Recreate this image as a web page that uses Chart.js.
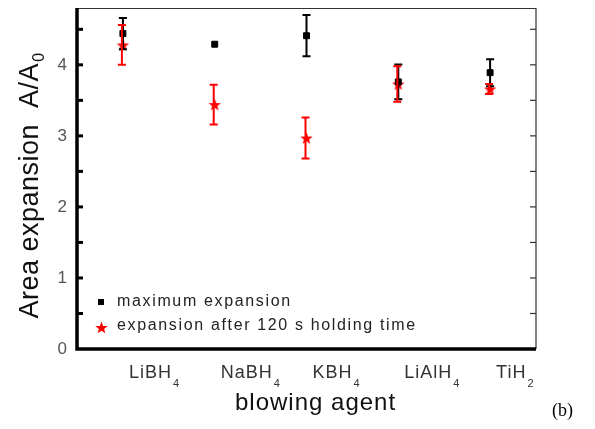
<!DOCTYPE html>
<html>
<head>
<meta charset="utf-8">
<script src="https://cdn.jsdelivr.net/npm/chart.js@4/dist/chart.umd.min.js"></script>
<style>
  html, body { margin: 0; padding: 0; background: #fff; }
  #wrap { position: relative; width: 595px; height: 429px; }
</style>
</head>
<body>
<div id="wrap"><canvas id="chart" width="595" height="429"></canvas></div>
<script>
// values
var categories = ['LiBH4', 'NaBH4', 'KBH4', 'LiAlH4', 'TiH2'];
var maxExpansion = [4.44, 4.29, 4.41, 3.76, 3.89];
var maxError = [0.22, 0.02, 0.29, 0.245, 0.19];
var holdExpansion = [4.28, 3.44, 2.97, 3.73, 3.66];
var holdError = [0.28, 0.28, 0.29, 0.25, 0.07];
var yTicks = [0, 1, 2, 3, 4];
var yMinorTicks = [0.5, 1.5, 2.5, 3.5, 4.5];

var FONT = '"Liberation Sans", Arial, sans-serif';

// filled five point star used as point style
function makeStar(size, color) {
    var c = document.createElement('canvas');
    c.width = size;
    c.height = size;
    var g = c.getContext('2d');
    var cx = size / 2, cy = size / 2 + 0.6;
    var outer = size / 2, inner = outer * 0.42;
    g.beginPath();
    for (var i = 0; i < 10; i++) {
        var r = i % 2 === 0 ? outer : inner;
        var a = -Math.PI / 2 + i * Math.PI / 5;
        g.lineTo(cx + r * Math.cos(a), cy + r * Math.sin(a));
    }
    g.closePath();
    g.fillStyle = color;
    g.fill();
    return c;
}

var starImg = makeStar(13, '#ff0000');

function spacing(ctx, px) {
    if ('letterSpacing' in ctx) ctx.letterSpacing = px + 'px';
}

// text with a subscript at the end, e.g. LiBH4 -> LiBH + 4
function drawSubText(ctx, text, x, y, size, subSize, gap, drop) {
    var m = text.match(/^(.*?)(\d+)$/);
    var base = m ? m[1] : text, sub = m ? m[2] : '';
    ctx.textAlign = 'left';
    ctx.textBaseline = 'alphabetic';
    ctx.font = size + 'px ' + FONT;
    var wb = ctx.measureText(base).width;
    ctx.fillText(base, x, y);
    ctx.font = subSize + 'px ' + FONT;
    ctx.fillText(sub, x + wb + gap, y + drop);
}

var errorBars = {
    id: 'errorBars',
    afterDatasetsDraw: function(chart) {
        var ctx = chart.ctx;
        var xs = chart.scales.x, ys = chart.scales.y;
        var sets = [
            { mean: maxExpansion, err: maxError, color: '#000000', dx: 0 },
            { mean: holdExpansion, err: holdError, color: '#ff0000', dx: -1 }
        ];
        ctx.save();
        ctx.lineWidth = 2;
        sets.forEach(function(s) {
            ctx.strokeStyle = s.color;
            s.mean.forEach(function(v, i) {
                var x = xs.getPixelForValue(i) + s.dx;
                var top = ys.getPixelForValue(v + s.err[i]);
                var bot = ys.getPixelForValue(v - s.err[i]);
                if (bot - top < 3) return;
                ctx.beginPath();
                ctx.moveTo(x, top); ctx.lineTo(x, bot);
                ctx.moveTo(x - 4, top); ctx.lineTo(x + 4, top);
                ctx.moveTo(x - 4, bot); ctx.lineTo(x + 4, bot);
                ctx.stroke();
            });
        });
        ctx.restore();
    }
};

var frameAndText = {
    id: 'frameAndText',
    afterDraw: function(chart) {
        var ctx = chart.ctx;
        var a = chart.chartArea;
        var xs = chart.scales.x, ys = chart.scales.y;
        ctx.save();

        // thin top and right border
        ctx.strokeStyle = '#333';
        ctx.lineWidth = 1.2;
        ctx.beginPath();
        ctx.moveTo(a.left, a.top + 0.5); ctx.lineTo(a.right, a.top + 0.5);
        ctx.lineTo(a.right, a.bottom);
        ctx.stroke();

        // inward ticks on left (thick) and right (thin)
        yTicks.concat(yMinorTicks).forEach(function(v) {
            var y = ys.getPixelForValue(v);
            if (v > 0) {
                ctx.strokeStyle = '#000';
                ctx.lineWidth = 3;
                ctx.beginPath();
                ctx.moveTo(a.left, y); ctx.lineTo(a.left + 6, y);
                ctx.stroke();
                ctx.strokeStyle = '#333';
                ctx.lineWidth = 1.2;
                ctx.beginPath();
                ctx.moveTo(a.right, y); ctx.lineTo(a.right - 6, y);
                ctx.stroke();
            }
        });

        // thick left and bottom axis
        ctx.strokeStyle = '#000';
        ctx.lineWidth = 3.5;
        ctx.beginPath();
        ctx.moveTo(a.left, a.top); ctx.lineTo(a.left, a.bottom); ctx.lineTo(a.right, a.bottom);
        ctx.stroke();

        // category labels with subscripts, left aligned near each point
        ctx.fillStyle = '#333';
        spacing(ctx, 1);
        categories.forEach(function(c, i) {
            drawSubText(ctx, c, xs.getPixelForValue(i) + 6, a.bottom + 29, 18, 11, 1, 9);
        });

        // axis titles
        ctx.fillStyle = '#111';
        spacing(ctx, 1);
        ctx.font = '24px ' + FONT;
        ctx.textAlign = 'left';
        ctx.textBaseline = 'alphabetic';
        ctx.fillText('blowing agent', 235, 410);

        ctx.save();
        ctx.translate(38, 186);
        ctx.rotate(-Math.PI / 2);
        spacing(ctx, 0.5);
        ctx.font = '27px ' + FONT;
        var t1 = 'Area expansion  A/A';
        var w1 = ctx.measureText(t1).width;
        ctx.font = '16px ' + FONT;
        var w2 = ctx.measureText('0').width;
        var x0 = -(w1 + w2) / 2;
        ctx.font = '27px ' + FONT;
        ctx.fillText(t1, x0, 0);
        ctx.font = '16px ' + FONT;
        ctx.fillText('0', x0 + w1 + 1, 6);
        ctx.restore();

        // legend inside plot
        ctx.fillStyle = '#000';
        ctx.fillRect(98, 299, 6, 6);
        ctx.drawImage(starImg, 95, 321);
        ctx.fillStyle = '#222';
        ctx.font = '16px ' + FONT;
        ctx.textAlign = 'left';
        ctx.textBaseline = 'middle';
        spacing(ctx, 1.65);
        ctx.fillText('maximum expansion', 117, 302);
        ctx.fillText('expansion after 120 s holding time', 117, 326);
        spacing(ctx, 0);

        // panel tag
        ctx.fillStyle = '#000';
        ctx.font = '18px "Liberation Serif", "Times New Roman", serif';
        ctx.textBaseline = 'alphabetic';
        ctx.fillText('(b)', 552, 416);

        ctx.restore();
    }
};

new Chart(document.getElementById('chart'), {
    type: 'line',
    data: {
        labels: categories,
        datasets: [{
            label: 'maximum expansion',
            data: maxExpansion,
            showLine: false,
            pointStyle: 'rect',
            pointRadius: 4.2,
            borderWidth: 1,
            backgroundColor: '#000',
            borderColor: '#000'
        }, {
            label: 'expansion after 120 s holding time',
            data: holdExpansion,
            showLine: false,
            pointStyle: starImg,
            backgroundColor: '#f00',
            borderColor: '#f00'
        }]
    },
    options: {
        responsive: false,
        animation: false,
        layout: { padding: { top: 8, right: 59, left: 0, bottom: 0 } },
        plugins: {
            legend: { display: false },
            tooltip: { enabled: false }
        },
        scales: {
            x: {
                offset: true,
                grid: { display: false, drawTicks: false },
                border: { display: false },
                ticks: { display: false },
                afterFit: function(s) {
                    s.height = 80;
                    s.paddingLeft = 0;
                    s.paddingRight = 0;
                }
            },
            y: {
                min: 0,
                max: 4.8,
                grid: { display: false, drawTicks: false },
                border: { display: false },
                ticks: {
                    padding: 10,
                    color: '#555',
                    font: { size: 17, family: FONT }
                },
                afterBuildTicks: function(s) {
                    s.ticks = yTicks.map(function(v) { return { value: v }; });
                },
                afterFit: function(s) {
                    s.width = 77;
                    s.paddingTop = 0;
                    s.paddingBottom = 0;
                }
            }
        }
    },
    plugins: [errorBars, frameAndText]
});
</script>
</body>
</html>
